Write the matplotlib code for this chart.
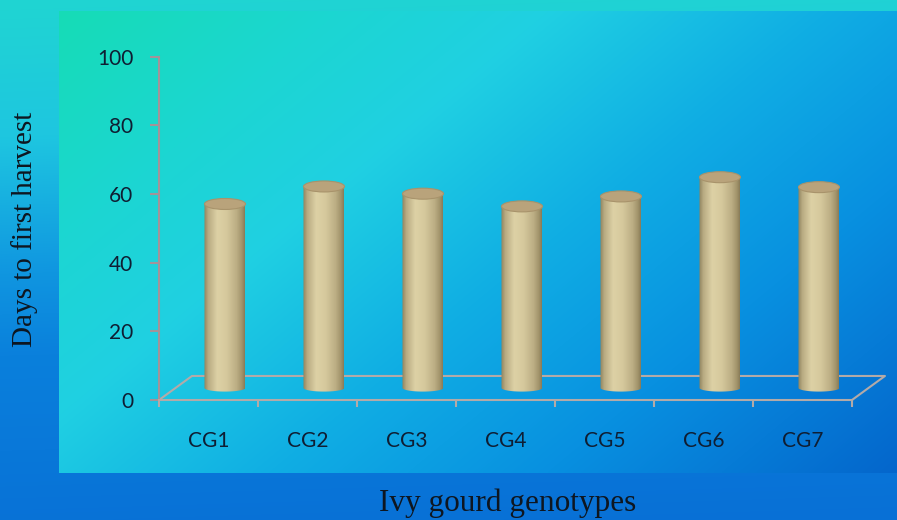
import numpy as np
import matplotlib
matplotlib.use("Agg")
import matplotlib.pyplot as plt
from matplotlib.colors import to_rgb
from matplotlib.patches import Ellipse, Polygon

genotypes = ["CG1", "CG2", "CG3", "CG4", "CG5", "CG6", "CG7"]
days_to_harvest = [53.6, 58.7, 56.6, 52.9, 55.8, 61.4, 58.5]
y_ticks = [0, 20, 40, 60, 80, 100]

W, H = 897, 520
DEPTH_X = 0.333   # oblique floor depth, in category units
DEPTH_Y = 7.0     # oblique floor depth, in value units
RADIUS = 0.207
CAP_B = 1.6
BASE_B = 1.05
AXIS_COLOR = "#a39399"
FLOOR_COLOR = "#b3aaa8"
TEXT_COLOR = "#0f1e33"


def ramp(t, stops):
    pos = [p for p, _ in stops]
    cols = np.array([to_rgb(c) for _, c in stops])
    return np.stack([np.interp(t, pos, cols[:, k]) for k in range(3)], axis=-1)


fig = plt.figure(figsize=(W / 100, H / 100), dpi=100)

# slide-style backdrop: outer vertical gradient plus the chart panel
bg = fig.add_axes([0, 0, 1, 1])
bg.set_xlim(0, W)
bg.set_ylim(H, 0)
bg.axis("off")

v = np.linspace(0, 1, 260)[:, None]
u = np.linspace(0, 1, 300)[None, :]
outer = ramp(v * 0.95 + u * 0.05, [(0, "#20d5d2"), (0.25, "#1ec6e0"),
                                   (0.5, "#1096e0"), (0.65, "#0a80dc"),
                                   (1, "#0870d6")])
bg.imshow(outer, extent=(0, W, H, 0), aspect="auto", interpolation="bilinear")

pv = np.linspace(0, 1, 240)[:, None]
pu = np.linspace(0, 1, 400)[None, :]
panel = ramp(0.6 * pu + 0.4 * pv, [(0, "#16dcb6"), (0.2, "#1cd6d2"),
                                   (0.35, "#20d0e2"), (0.55, "#10aee4"),
                                   (0.75, "#0890e0"), (1, "#0466cc")])
bg.imshow(panel, extent=(59, W, 473, 11), aspect="auto", interpolation="bilinear")
bg.set_xlim(0, W)
bg.set_ylim(H, 0)

ax = fig.add_axes([159 / W, 120 / H, 693 / W, 343.3 / H])
ax.set_facecolor("none")

# cylinder shading across the body, dark rims and a light stripe
body_grad = ramp(np.linspace(0, 1, 64), [(0, "#90845f"), (0.1, "#b8ab82"),
                                         (0.32, "#ddd1a5"), (0.55, "#d6c99d"),
                                         (0.8, "#bcae84"), (0.93, "#a2946b"),
                                         (1, "#8a7d59")])[None, :, :]

for i, val in enumerate(days_to_harvest):
    cx = i + DEPTH_X / 2
    base = DEPTH_Y / 2
    top = val + DEPTH_Y / 2
    th = np.linspace(np.pi, 2 * np.pi, 40)
    arc = np.column_stack([cx + RADIUS * np.cos(th), base + BASE_B * np.sin(th)])
    verts = np.vstack([[cx - RADIUS, top], arc, [cx + RADIUS, top]])
    body = Polygon(verts, closed=True, facecolor="none", edgecolor="none", zorder=3)
    ax.add_patch(body)
    im = ax.imshow(body_grad, extent=(cx - RADIUS, cx + RADIUS, base - BASE_B, top),
                   aspect="auto", origin="lower", interpolation="bilinear", zorder=3)
    im.set_clip_path(body)
    ax.add_patch(Ellipse((cx, top), 2 * RADIUS, 2 * CAP_B, facecolor="#b9a37b",
                         edgecolor="#a8936b", lw=0.8, zorder=4))

ax.set_xlim(-0.5, len(genotypes) - 0.5)
ax.set_ylim(0, 100)

# floor outline behind the front axis
x0, x1 = -0.5, len(genotypes) - 0.5
ax.plot([x1, x1 + DEPTH_X, x0 + DEPTH_X, x0], [0, DEPTH_Y, DEPTH_Y, 0],
        color=FLOOR_COLOR, lw=1.5, clip_on=False, zorder=2)

for side in ("top", "right"):
    ax.spines[side].set_visible(False)
ax.spines["left"].set_color(AXIS_COLOR)
ax.spines["left"].set_linewidth(1.5)
ax.spines["bottom"].set_color(FLOOR_COLOR)
ax.spines["bottom"].set_linewidth(1.5)

ax.set_yticks(y_ticks)
ax.set_yticklabels([str(t) for t in y_ticks])
ax.set_xticks(np.arange(x0, x1 + 0.5, 1))
ax.set_xticklabels([])
ax.set_xticks(range(len(genotypes)), minor=True)
ax.set_xticklabels(genotypes, minor=True)

for lab in ax.get_yticklabels() + ax.get_xticklabels(minor=True):
    lab.set_fontfamily("Lato")
    lab.set_fontsize(15)
    lab.set_color(TEXT_COLOR)

ax.tick_params(axis="y", length=6.5, width=1.5, color=AXIS_COLOR, pad=12)
ax.tick_params(axis="x", which="major", length=5, width=1.5, color=FLOOR_COLOR)
ax.tick_params(axis="x", which="minor", length=0, pad=22)

fig.text(25 / W, 1 - 229 / H, "Days to first harvest", rotation=90,
         ha="center", va="center", family="Liberation Serif", size=21, color="#0e1620")
fig.text(508 / W, 1 - 503 / H, "Ivy gourd genotypes", ha="center", va="center",
         family="Liberation Serif", size=22.5, color="#0e1620")

fig.savefig("out.png", dpi=100)
plt.close(fig)
